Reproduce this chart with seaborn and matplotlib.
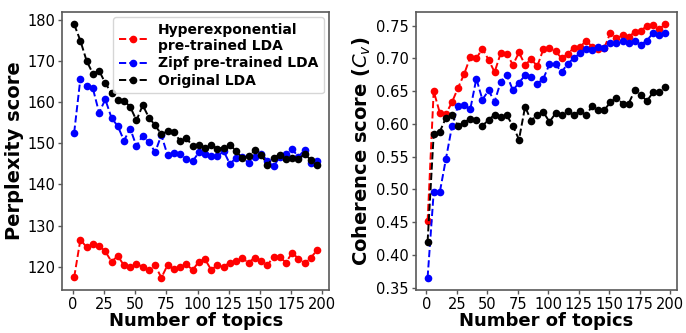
import numpy as np
import pandas as pd
import matplotlib
matplotlib.use("Agg")
import matplotlib.pyplot as plt
import seaborn as sns

# ---------------- data ----------------
topics = [1 + 5 * i for i in range(40)]

perp_hyper = [117.4, 126.6, 124.7, 125.5, 125.1, 123.7, 121.2, 122.6, 120.3, 119.9,
              120.6, 120.0, 119.1, 120.3, 117.3, 120.4, 119.4, 119.9, 120.7, 119.1,
              121.2, 121.8, 119.2, 120.4, 120.0, 121.0, 121.4, 122.0, 121.0, 122.2,
              121.4, 120.3, 122.4, 122.3, 121.0, 123.4, 121.9, 120.9, 122.2, 124.0]
perp_zipf = [152.6, 165.8, 163.9, 163.4, 157.5, 160.7, 156.2, 154.2, 150.7, 153.6,
             149.3, 151.9, 150.3, 147.9, 152.0, 147.1, 147.7, 147.5, 146.2, 145.6,
             147.8, 147.5, 147.0, 146.9, 148.1, 145.0, 146.5, 146.7, 145.2, 146.6,
             147.5, 145.8, 144.4, 146.7, 147.5, 148.6, 146.7, 148.5, 145.3, 145.7]
perp_orig = [179.0, 175.0, 170.1, 167.0, 167.7, 164.7, 162.2, 160.5, 160.4, 158.9,
             155.6, 159.3, 156.3, 154.4, 152.2, 153.0, 152.8, 150.6, 151.4, 149.3,
             149.7, 149.0, 149.7, 148.7, 149.0, 149.7, 148.1, 146.4, 146.9, 148.3,
             147.3, 144.8, 146.5, 147.3, 146.1, 146.5, 146.1, 147.5, 145.9, 144.7]

coh_hyper = [0.451, 0.650, 0.617, 0.615, 0.633, 0.655, 0.676, 0.702, 0.700, 0.715,
             0.698, 0.679, 0.708, 0.707, 0.690, 0.709, 0.690, 0.699, 0.688, 0.714,
             0.716, 0.711, 0.700, 0.707, 0.716, 0.717, 0.727, 0.718, 0.714, 0.716,
             0.739, 0.731, 0.736, 0.732, 0.741, 0.742, 0.750, 0.751, 0.745, 0.752]
coh_zipf = [0.365, 0.4955, 0.4955, 0.546, 0.596, 0.628, 0.629, 0.622, 0.669, 0.637,
            0.651, 0.634, 0.664, 0.675, 0.651, 0.663, 0.674, 0.672, 0.661, 0.669,
            0.691, 0.691, 0.679, 0.692, 0.700, 0.708, 0.715, 0.713, 0.718, 0.716,
            0.723, 0.723, 0.726, 0.723, 0.726, 0.721, 0.727, 0.739, 0.736, 0.738]
coh_orig = [0.420, 0.584, 0.588, 0.609, 0.613, 0.597, 0.602, 0.608, 0.606, 0.597,
            0.606, 0.614, 0.611, 0.613, 0.597, 0.576, 0.626, 0.605, 0.614, 0.618,
            0.603, 0.616, 0.614, 0.620, 0.613, 0.620, 0.613, 0.627, 0.621, 0.621,
            0.633, 0.640, 0.631, 0.631, 0.651, 0.644, 0.635, 0.648, 0.648, 0.657]

series_labels = ["Hyperexponential\npre-trained LDA", "Zipf pre-trained LDA", "Original LDA"]
series_colors = ["red", "blue", "black"]
x_ticks = [0, 25, 50, 75, 100, 125, 150, 175, 200]
perp_ticks = [120, 130, 140, 150, 160, 170, 180]
coh_ticks = [0.35, 0.40, 0.45, 0.50, 0.55, 0.60, 0.65, 0.70, 0.75]

# ---------------- style ----------------
plt.rcParams["font.family"] = ["DejaVu Sans"]
plt.rcParams["axes.edgecolor"] = "0.35"
plt.rcParams["axes.linewidth"] = 1.2

fig = plt.figure(figsize=(6.86, 3.33), dpi=100)
ax1 = fig.add_axes([0.0904, 0.128, 0.3896, 0.837])
ax2 = fig.add_axes([0.606, 0.128, 0.381, 0.837])


def draw(ax, ys):
    for y, lab, col in zip(ys, series_labels, series_colors):
        df = pd.DataFrame({"topics": topics, "value": y})
        sns.lineplot(data=df, x="topics", y="value", ax=ax, color=col, label=lab,
                     linestyle="--", marker="o", markersize=5.5,
                     markeredgecolor=col, markeredgewidth=0, linewidth=1.4)


draw(ax1, [perp_hyper, perp_zipf, perp_orig])
draw(ax2, [coh_hyper, coh_zipf, coh_orig])

ax1.set_xticks(x_ticks)
ax2.set_xticks(x_ticks)
ax1.set_yticks(perp_ticks)
ax2.set_yticks(coh_ticks)
ax2.yaxis.set_major_formatter(matplotlib.ticker.FormatStrFormatter("%.2f"))

for ax in (ax1, ax2):
    ax.tick_params(axis="both", labelsize=10.5, length=3, width=1, color="0.35", pad=2)
    ax.set_xlabel("Number of topics", fontsize=13, fontweight="bold", labelpad=0)

ax1.set_ylabel("Perplexity score", fontsize=14, fontweight="bold", labelpad=2)
ax2.set_ylabel(r"Coherence score ($C_v$)", fontsize=14, fontweight="bold", labelpad=2)

leg = ax1.legend(loc="upper right", prop={"weight": "bold", "size": 10},
                 handlelength=2.0, borderaxespad=0.4, labelspacing=0.25,
                 frameon=True, fancybox=True, framealpha=0.8)
if ax2.get_legend() is not None:
    ax2.get_legend().remove()

fig.savefig("out.png", dpi=100)
